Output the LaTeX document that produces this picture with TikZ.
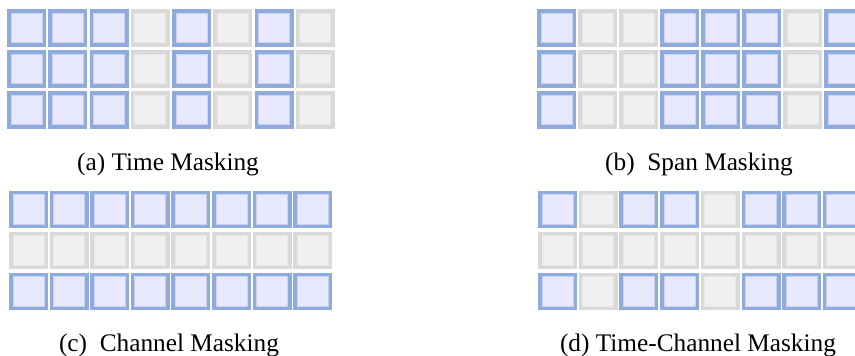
\documentclass[tikz,border=0pt]{standalone}
\usepackage{fontspec}
\setmainfont{Liberation Serif}
\definecolor{cellblue}{HTML}{8FAADC}
\definecolor{cellbluein}{HTML}{C9D2F2}
\definecolor{cellbluefill}{HTML}{E8E8FD}
\definecolor{cellgray}{HTML}{D9D9D9}
\definecolor{cellgrayin}{HTML}{E6E6E6}
\definecolor{cellgrayfill}{HTML}{F0F0F0}
\tikzset{
  cellbase/.style={rectangle, minimum width=35.5pt, minimum height=34pt, inner sep=0pt, line width=3.5pt},
  cell1/.style={cellbase, draw=cellblue, fill=cellbluefill,
    path picture={\draw[cellbluein, line width=1pt] ([shift={(2.25pt,-2.25pt)}]path picture bounding box.north west) rectangle ([shift={(-2.25pt,2.25pt)}]path picture bounding box.south east);}},
  cell0/.style={cellbase, draw=cellgray, fill=cellgrayfill,
    path picture={\draw[cellgrayin, line width=1pt] ([shift={(2.25pt,-2.25pt)}]path picture bounding box.north west) rectangle ([shift={(-2.25pt,2.25pt)}]path picture bounding box.south east);}},
  caption/.style={anchor=base, font=\fontsize{25.3}{30}\selectfont, inner sep=0pt}
}
\begin{document}
\begin{tikzpicture}[x=1pt, y=-1pt]
\useasboundingbox (0,0) rectangle (855,356);
\clip (0,0) rectangle (855,356);
% (a) Time Masking
\foreach \v [count=\i from 0] in {1,1,1,0,1,0,1,0} {
  \foreach \j in {0,1,2} {
    \node[cell\v] (a-\j-\i) at ({26.5+41.25*\i},{27.75+41*\j}) {};
  }
}
% (b) Span Masking
\foreach \v [count=\i from 0] in {1,0,0,1,1,1,0,1} {
  \foreach \j in {0,1,2} {
    \node[cell\v] (b-\j-\i) at ({556.5+41*\i},{27.75+41*\j}) {};
  }
}
% (c) Channel Masking
\foreach \v [count=\j from 0] in {1,0,1} {
  \foreach \i in {0,...,7} {
    \node[cell\v] (c-\j-\i) at ({28.5+40.6*\i},{209.5+41*\j}) {};
  }
}
% (d) Time-Channel Masking
\foreach \v [count=\i from 0] in {1,0,1,1,0,1,1,1} {
  \node[cell\v] (d-0-\i) at ({557.5+40.7*\i},209.5) {};
  \node[cell0]  (d-1-\i) at ({557.5+40.7*\i},250.5) {};
  \node[cell\v] (d-2-\i) at ({557.5+40.7*\i},291.5) {};
}
\node[caption] (capa) at (168,170) {(a) Time Masking};
\node[caption] (capb) at (699,170) {(b)\ \ Span Masking};
\node[caption] (capc) at (169,351) {(c)\ \ Channel Masking};
\node[caption] (capd) at (698,351) {(d) Time-Channel Masking};
\end{tikzpicture}
\end{document}
